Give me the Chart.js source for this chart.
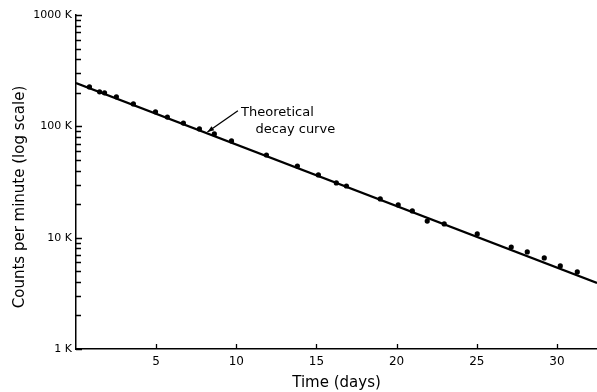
<!DOCTYPE html>
<html>
<head>
<meta charset="utf-8">
<script src="https://cdn.jsdelivr.net/npm/chart.js@4/dist/chart.umd.min.js"></script>
<style>
  html, body { margin: 0; padding: 0; background: #fff; }
  #wrap { width: 597px; height: 392px; }
</style>
</head>
<body>
<div id="wrap"><canvas id="decay"></canvas></div>
<script>
const days = [0.84, 1.47, 1.78, 2.52, 3.58, 4.96, 5.70, 6.70, 7.70, 8.63, 9.70, 11.88, 13.81,
              15.12, 16.24, 16.87, 18.98, 20.10, 20.98, 21.91, 22.97, 25.03, 27.15, 28.15,
              29.21, 30.21, 31.27];
const counts = [226000, 204000, 200000, 184000, 159000, 135000, 121000, 107000, 94800, 85500,
                74000, 55300, 44000, 36600, 31000, 29100, 22300, 19700, 17400, 14100, 13300,
                10800, 8240, 7440, 6580, 5570, 4920];

// theoretical decay curve (straight on log axis), end points
const curveDays = [0, 32.5];
const curveCounts = [245000, 3920];

const xTickValues = [5, 10, 15, 20, 25, 30];
const yDecades = [1000, 10000, 100000, 1000000];
const yDecadeLabels = ['1 K', '10 K', '100 K', '1000 K'];

const FONT = "'DejaVu Sans', sans-serif";

// every 1..9 step inside each decade gets a tick mark
const yTickValues = [];
yDecades.forEach((d, i) => {
    if (i === yDecades.length - 1) { yTickValues.push(d); return; }
    for (let k = 1; k <= 9; k++) yTickValues.push(d * k);
});

// ticks point into the plot, like the original
const inwardTicks = {
    id: 'inwardTicks',
    afterDraw(chart) {
        const { ctx, scales: { x, y } } = chart;
        ctx.save();
        ctx.strokeStyle = '#000';
        ctx.lineWidth = 1.3;
        ctx.beginPath();
        y.ticks.forEach(t => {
            const py = Math.round(y.getPixelForValue(t.value)) + 0.5;
            const len = yDecades.includes(t.value) ? 6 : 5;
            ctx.moveTo(x.left, py);
            ctx.lineTo(x.left + len, py);
        });
        x.ticks.forEach(t => {
            const px = Math.round(x.getPixelForValue(t.value)) + 0.5;
            ctx.moveTo(px, y.bottom);
            ctx.lineTo(px, y.bottom - 5);
        });
        ctx.stroke();
        ctx.restore();
    }
};

// y title sits a little below the middle of the axis in the original
const yTitle = {
    id: 'yTitle',
    afterDraw(chart) {
        const { ctx, chartArea } = chart;
        ctx.save();
        ctx.translate(20, (chartArea.top + chartArea.bottom) / 2 + 15);
        ctx.rotate(-Math.PI / 2);
        ctx.fillStyle = '#000';
        ctx.font = "15px " + FONT;
        ctx.textAlign = 'center';
        ctx.textBaseline = 'middle';
        ctx.fillText('Counts per minute (log scale)', 0, 0);
        ctx.restore();
    }
};

// "Theoretical decay curve" label with its arrow
const curveNote = {
    id: 'curveNote',
    afterDraw(chart) {
        const { ctx, scales: { x, y } } = chart;
        ctx.save();
        ctx.fillStyle = '#000';
        ctx.strokeStyle = '#000';
        ctx.font = "13px " + FONT;
        ctx.textAlign = 'left';
        ctx.textBaseline = 'middle';
        ctx.fillText('Theoretical', x.getPixelForValue(10.3), y.getPixelForValue(134000));
        ctx.fillText('decay curve', x.getPixelForValue(11.2), y.getPixelForValue(93000));

        const x0 = x.getPixelForValue(10.1), y0 = y.getPixelForValue(138000);
        const x1 = x.getPixelForValue(8.2), y1 = y.getPixelForValue(89000);
        ctx.lineWidth = 1.3;
        ctx.beginPath();
        ctx.moveTo(x0, y0);
        ctx.lineTo(x1, y1);
        ctx.stroke();
        const a = Math.atan2(y1 - y0, x1 - x0);
        ctx.beginPath();
        ctx.moveTo(x1, y1);
        ctx.lineTo(x1 - 7 * Math.cos(a - 0.35), y1 - 7 * Math.sin(a - 0.35));
        ctx.lineTo(x1 - 7 * Math.cos(a + 0.35), y1 - 7 * Math.sin(a + 0.35));
        ctx.closePath();
        ctx.fill();
        ctx.restore();
    }
};

new Chart(document.getElementById('decay'), {
    type: 'scatter',
    data: {
        datasets: [
            {
                type: 'line',
                data: curveDays.map((d, i) => ({ x: d, y: curveCounts[i] })),
                borderColor: '#000',
                borderWidth: 2.2,
                pointRadius: 0,
                fill: false
            },
            {
                data: days.map((d, i) => ({ x: d, y: counts[i] })),
                backgroundColor: '#000',
                borderWidth: 0,
                pointRadius: 2.6
            }
        ]
    },
    options: {
        responsive: true,
        maintainAspectRatio: false,
        animation: false,
        events: [],
        layout: { autoPadding: false, padding: { top: 15, right: 0, left: 0, bottom: 0 } },
        plugins: { legend: { display: false }, tooltip: { enabled: false } },
        scales: {
            x: {
                type: 'linear',
                min: 0,
                max: 32.5,
                afterBuildTicks: s => { s.ticks = xTickValues.map(v => ({ value: v })); },
                afterFit: s => { s.height = 43; },
                grid: { drawOnChartArea: false, drawTicks: false },
                border: { color: '#000', width: 1.5 },
                ticks: { color: '#000', padding: 6, maxRotation: 0, font: { family: FONT, size: 12 } },
                title: {
                    display: true, text: 'Time (days)', color: '#000',
                    font: { family: FONT, size: 15 }, padding: { top: 0, bottom: 0 }
                }
            },
            y: {
                type: 'logarithmic',
                min: 1000,
                max: 1000000,
                afterBuildTicks: s => { s.ticks = yTickValues.map(v => ({ value: v })); },
                afterFit: s => { s.width = 76; },
                grid: { drawOnChartArea: false, drawTicks: false },
                border: { color: '#000', width: 1.5 },
                ticks: {
                    color: '#000', padding: 4, autoSkip: false,
                    font: { family: FONT, size: 11 },
                    callback: v => {
                        const i = yDecades.indexOf(v);
                        return i >= 0 ? yDecadeLabels[i] : '';
                    }
                }
            }
        }
    },
    plugins: [inwardTicks, yTitle, curveNote]
});
</script>
</body>
</html>
